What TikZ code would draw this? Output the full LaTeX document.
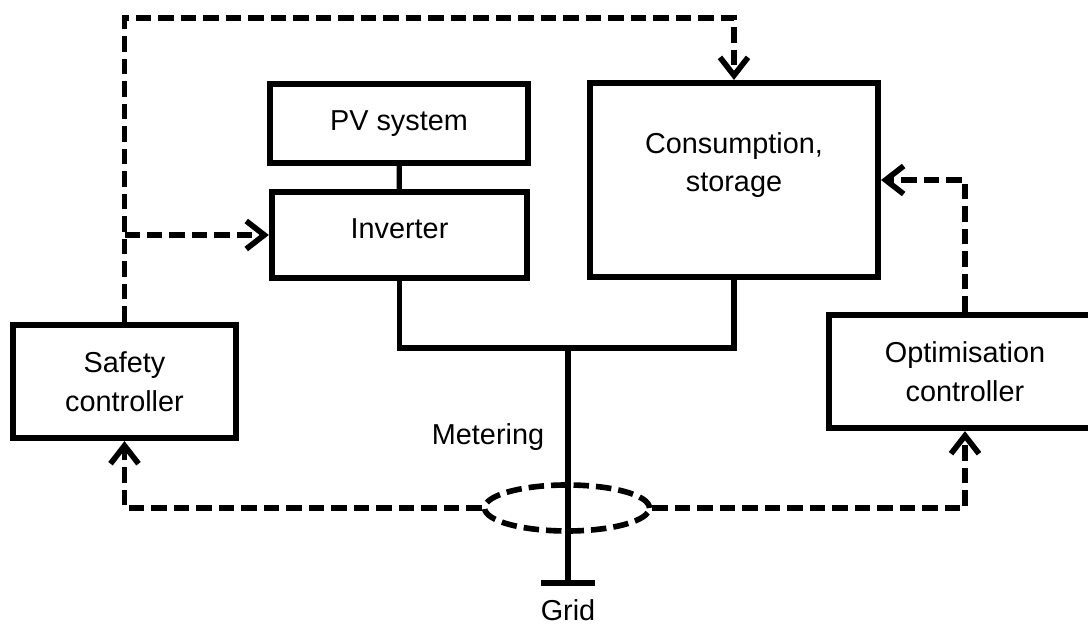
\documentclass[tikz,border=0pt]{standalone}
\usepackage{fontspec}
\setmainfont{Liberation Sans}
\usetikzlibrary{arrows.meta,shapes.geometric}
\begin{document}
\begin{tikzpicture}[x=0.025cm,y=-0.025cm,
        font=\fontsize{20.5}{27.5}\selectfont,
        block/.style={draw,line width=4.3pt,align=center,inner sep=0pt},
        wire/.style={line width=3.8pt},
        signal/.style={line width=4pt,dash pattern=on 11pt off 5pt},
        sig/.style={signal,-{Straight Barb[length=4.5mm,width=7mm]}}]
        \useasboundingbox (0,0) rectangle (1088,628);
        \node[block,minimum width=6.45cm,minimum height=1.98cm] (pv) at (399,123.5) {PV system};
        \node[block,minimum width=6.38cm,minimum height=2.15cm,text depth=0.3cm] (inv) at (399.5,235) {Inverter};
        \node[block,minimum width=7.2cm,minimum height=4.85cm,text depth=0.9cm] (cons) at (734,180) {Consumption,\\storage};
        \node[block,minimum width=5.58cm,minimum height=2.83cm] (safety) at (124.5,381.5) {Safety\\controller};
        \node[block,minimum width=6.8cm,minimum height=2.83cm] (opt) at (965,371.5) {Optimisation\\controller};
        \coordinate (bus) at (568,348);
        \coordinate (gnd) at (568,583);
        \coordinate (top) at (400,18);
        \draw[wire] (pv) -- (inv);
        \draw[wire] (inv.south) |- (bus) -| (cons.south);
        \draw[wire] (bus) -- (gnd);
        \draw[wire,line width=4.3pt] ([xshift=-0.68cm]gnd) -- ([xshift=0.68cm]gnd);
        \node[signal,draw,ellipse,inner sep=0pt,minimum width=4.12cm,minimum height=1.15cm] (meter) at (567,508) {};
        \node (meterlabel) at (488,437) {Metering};
        \node (grid) at (568,610) {Grid};
        \draw[sig] (safety.north) |- (top) -| (cons.north);
        \draw[sig] (safety.north |- inv.west) -- (inv.west);
        \draw[sig] (opt.north) |- (cons.east);
        \draw[sig] (meter.west) -| (safety.south);
        \draw[sig] (meter.east) -| (opt.south);
\end{tikzpicture}
\end{document}
